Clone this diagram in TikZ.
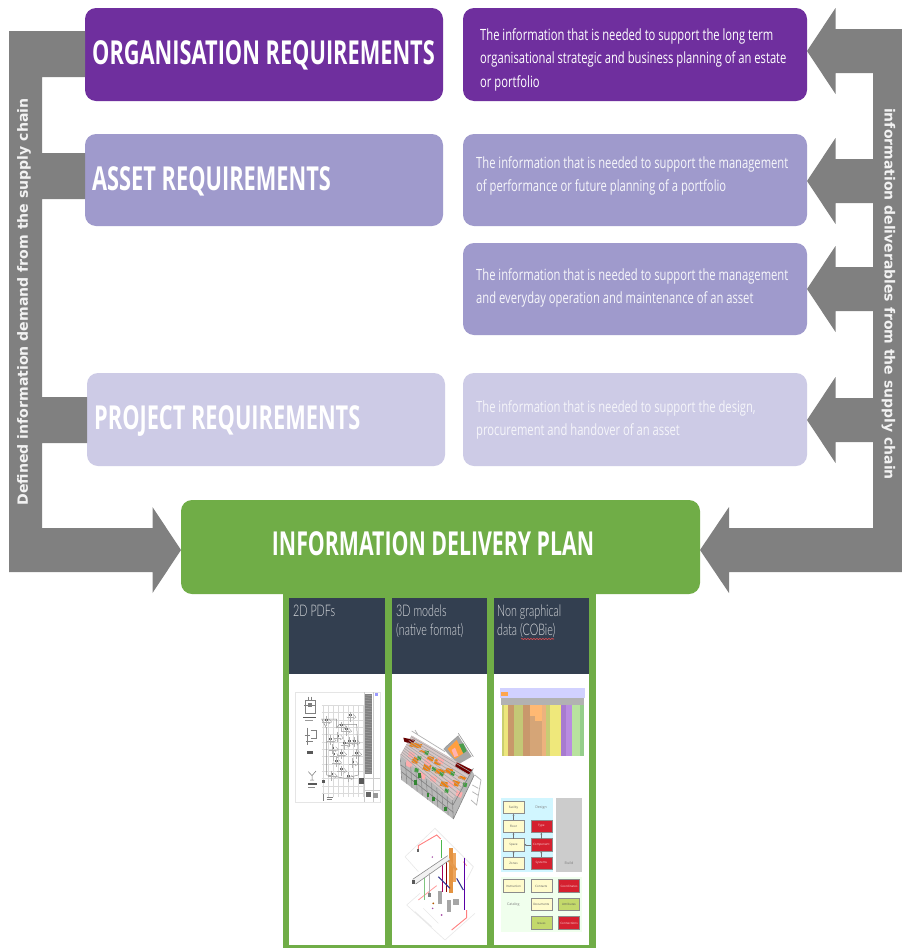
\documentclass[tikz,border=0pt]{standalone}
\usepackage{fontspec}
\setmainfont{Open Sans}
\newfontfamily\titlefont[FakeStretch=0.66]{Open Sans}
\newfontfamily\idpfont[FakeStretch=0.645]{Open Sans}
\newfontfamily\bodyfont[FakeStretch=0.723]{Open Sans}
\newfontfamily\thinfont[FakeStretch=0.672]{Lato Light}
\newfontfamily\sidefont{DejaVu Sans}
\usetikzlibrary{calc,decorations.pathmorphing,arrows.meta}
\definecolor{cPurple}{HTML}{6F2F9E}
\definecolor{cAsset}{HTML}{9F9ACC}
\definecolor{cProject}{HTML}{CDCBE6}
\definecolor{cGreen}{HTML}{70AD47}
\definecolor{cGrey}{HTML}{808080}
\definecolor{cDark}{HTML}{333F50}
\definecolor{cCream}{HTML}{FFFBCC}
\definecolor{cRed}{HTML}{D5202F}
\definecolor{cLime}{HTML}{C3D96B}
\newcommand{\fsz}[1]{\fontsize{#1}{#1}\selectfont}
\tikzset{
  x=1pt,y=-1pt,
  card/.style={rectangle,rounded corners=11pt,inner sep=0pt,outer sep=0pt},
  title/.style={anchor=west,inner sep=0pt,text=white,font=\titlefont\bfseries\fsz{33}},
  body/.style={anchor=west,inner sep=0pt,text=white,font=\bodyfont\fsz{15.5}},
  head/.style={anchor=north west,inner sep=0pt,align=left,text=white!82!cDark,font=\thinfont\fontsize{16}{19}\selectfont},
  side/.style={inner sep=0pt,text=white!90!cGrey,font=\sidefont\bfseries\fsz{14}},
  block/.style={fill=cGrey,draw=none},
  mini/.style={rectangle,inner sep=0pt,outer sep=0pt,minimum width=21pt,minimum height=12.5pt,draw=black!45,line width=.6pt,font=\fsz{3},text=black!65},
  minic/.style={mini,fill=cCream},
  minir/.style={mini,fill=cRed,text=white!85!cRed},
  minil/.style={mini,fill=cLime},
  link/.style={draw=black!55,line width=.5pt,-{Latex[length=2pt,width=2pt]}},
  tiny/.style={inner sep=0pt,font=\fsz{3.6},text=black!50}
}
\begin{document}
\begin{tikzpicture}
\useasboundingbox (0,0) rectangle (902,948);
\fill[white] (0,0) rectangle (902,948);

% ---- cards
\node[card,fill=cPurple,minimum width=358pt,minimum height=93pt] (orgL) at (264,54.5) {};
\node[card,fill=cPurple,minimum width=344pt,minimum height=93pt] (orgR) at (635,54.5) {};
\node[card,fill=cAsset,minimum width=358pt,minimum height=92pt] (assetL) at (264,180) {};
\node[card,fill=cAsset,minimum width=344pt,minimum height=92pt] (assetR) at (635,180) {};
\node[card,fill=cAsset,minimum width=344pt,minimum height=92pt] (operR) at (635,289) {};
\node[card,fill=cProject,minimum width=358pt,minimum height=93pt] (projL) at (266,419.5) {};
\node[card,fill=cProject,minimum width=344pt,minimum height=93pt] (projR) at (635,419.5) {};
\node[card,fill=cGreen,minimum width=519pt,minimum height=94pt] (idp) at (440.5,547) {};

% ---- arrow tips
\coordinate (lTip) at ($(idp.west)+(0,3)$);
\coordinate (rTip) at ($(idp.east)+(0,3)$);
\coordinate (pTip) at ($(projR.east)+(0,0.5)$);
\coordinate (oTip) at (operR.east);
\coordinate (aTip) at ($(assetR.east)+(0,1)$);
\coordinate (gTip) at ($(orgR.east)+(0,-3.5)$);

% ---- left block arrow (demand)
\fill[block] (orgL.west |- 0,31) -- (9,31) -- (9,572) -- ($(lTip)+(-28.5,22)$) -- ($(lTip)+(-28.5,43)$)
  -- (lTip) -- ($(lTip)+(-28.5,-43)$) -- ($(lTip)+(-28.5,-22)$) -- (42,528) -- (42,443)
  -- (projL.west |- 0,443) -- (projL.west |- 0,397) -- (42,397) -- (42,199)
  -- (assetL.west |- 0,199) -- (assetL.west |- 0,153) -- (42,153) -- (42,77)
  -- (orgL.west |- 0,77) -- cycle;
% ---- right block arrow (deliverables)
\fill[block] (902,29) -- (902,572) -- ($(rTip)+(29,22)$) -- ($(rTip)+(29,43)$) -- (rTip)
  -- ($(rTip)+(29,-43)$) -- ($(rTip)+(29,-22)$) -- (873,528) -- (873,442)
  -- ($(pTip)+(28.5,22)$) -- ($(pTip)+(28.5,43)$) -- (pTip) -- ($(pTip)+(28.5,-43)$) -- ($(pTip)+(28.5,-22)$)
  -- (873,398) -- (873,311)
  -- ($(oTip)+(28.5,22)$) -- ($(oTip)+(28.5,43)$) -- (oTip) -- ($(oTip)+(28.5,-43)$) -- ($(oTip)+(28.5,-22)$)
  -- (873,267) -- (873,203)
  -- ($(aTip)+(28.5,22)$) -- ($(aTip)+(28.5,43)$) -- (aTip) -- ($(aTip)+(28.5,-43)$) -- ($(aTip)+(28.5,-22)$)
  -- (873,159) -- (873,73)
  -- ($(gTip)+(28.5,22)$) -- ($(gTip)+(28.5,43)$) -- (gTip) -- ($(gTip)+(28.5,-43)$) -- ($(gTip)+(28.5,-22)$)
  -- cycle;

% ---- side labels
\node[side,rotate=90,font=\sidefont\bfseries\fsz{14.1}] (demand) at (24,302) {Defined information demand from the supply chain};
\node[side,rotate=-90] (deliver) at (888.5,294) {information deliverables from the supply chain};

% ---- titles
\node[title] (t1) at (92,55.5) {ORGANISATION REQUIREMENTS};
\node[title] (t2) at (92,181) {ASSET REQUIREMENTS};
\node[title] (t3) at (94,420.5) {PROJECT REQUIREMENTS};
\node[title,anchor=center,font=\idpfont\bfseries\fsz{33}] (t4) at (433,544) {INFORMATION DELIVERY PLAN};

% ---- descriptions
\node[body] (b1) at (480,36) {The information that is needed to support the long term};
\node[body] (b2) at (480,59) {organisational strategic and business planning of an estate};
\node[body] (b3) at (480,83) {or portfolio};
\node[body,text=white!92!cAsset] (b4) at (476,164) {The information that is needed to support the management};
\node[body,text=white!92!cAsset] (b5) at (476,187) {of performance or future planning of a portfolio};
\node[body,text=white!92!cAsset] (b6) at (476,276) {The information that is needed to support the management};
\node[body,text=white!92!cAsset] (b7) at (476,299) {and everyday operation and maintenance of an asset};
\node[body,text=white!80!cProject] (b8) at (476,408) {The information that is needed to support the design,};
\node[body,text=white!80!cProject] (b9) at (476,431) {procurement and handover of an asset};

% ---- lower panel
\fill[cGreen] (283,594) rectangle (596,948);
\foreach \xa/\xb in {289/385,392/487,494/589}{
  \fill[white] (\xa,674) rectangle (\xb,945);
  \fill[cDark] (\xa,598) rectangle (\xb,674);
}
\node[head] (h1) at (293,605) {2D PDFs};
\node[head] (h2) at (396,605) {3D models\\(native format)};
\node[head] (h3) at (497,605) {Non graphical\\data (COBie)};
\coordinate (sqA) at (521,639);
\coordinate (sqB) at (554,639);
\draw[red!70!white,line width=.6pt,decorate,decoration={snake,amplitude=.5pt,segment length=3pt}] (sqA) -- (sqB);

% ---- 2D drawing
\begin{scope}[shift={(290,685)},x=.3333pt,y=-.3333pt]
  \fill[white] (15,22) rectangle (270,352);
  \draw[black!10,line width=.8pt] (15,22) rectangle (270,352);
  \fill[black!50] (225,26) rectangle (246,268);
  \foreach \yy in {30,38,...,262}{\draw[white!65!black,line width=.5pt] (226,\yy) -- (245,\yy+2);}
  \draw[black!20,line width=.3pt] (248,22) -- (248,352) (222,22) -- (222,352) (222,280) -- (270,280) (222,315) -- (270,315);
  \fill[blue!40] (256,24) rectangle (264,32);
  \fill[black!60] (228,322) rectangle (242,335);
  \fill[black!40] (248,325) rectangle (265,340);
  \foreach \xx in {100,115,...,220}{\draw[black!14,line width=.25pt] (\xx,60) -- (\xx,335);}
  \foreach \yy in {60,82,...,335}{\draw[black!14,line width=.25pt] (95,\yy) -- (222,\yy);}
  % plan walls
  \draw[black!45,line width=.5pt] (95,102) -- (140,102) -- (140,128) -- (148,118) -- (200,118) -- (205,215) -- (205,270) -- (165,280) -- (110,270) -- (110,130) -- cycle;
  \foreach \px/\py in {105/102,150/118,178/88,118/158,125/185,128/205,135/225,122/265,165/130,175/165,190/165,195/200,185/228,150/200,160/172,140/150,150/250,172/270}{
    \fill[black!60] (\px,\py) rectangle ++(8,6);
    \draw[black!30,line width=.35pt] (\px-8,\py+10) -- ++(22,0) (\px+3,\py-8) -- ++(0,30);
    \draw[black!40,line width=.35pt] (\px+12,\py) -- ++(8,9) -- ++(-10,6);
  }
  \fill[black!65] (97,285) rectangle (106,295);
  \fill[black!65] (208,280) rectangle (222,298);
  \fill[black!50] (98,327) rectangle (103,348);
  \draw[black!50,line width=.4pt] (110,338) -- (130,338) (110,343) -- (125,343);
  % detail sketches on the left
  \draw[black!50,line width=.5pt] (45,45) rectangle (75,85) (55,35) -- (55,45) (65,35) -- (65,45) (42,60) -- (78,60);
  \fill[black!50] (55,55) rectangle (65,65);
  \fill[black!65] (40,95) rectangle (78,100);
  \draw[black!40,line width=.5pt] (45,105) -- (70,105);
  \draw[black!50,line width=.5pt] (52,128) -- (52,180) (62,135) -- (80,135) -- (80,160) -- (62,160) (44,150) -- (60,150) (48,170) -- (70,170);
  \fill[black!65] (50,198) rectangle (70,208);
  \draw[black!55,line width=.5pt] (55,260) -- (66,272) -- (78,258) (66,272) -- (66,285) (60,285) -- (72,285);
  \fill[black!65] (55,295) rectangle (80,301);
  \fill[black!45] (55,305) rectangle (75,310);
\end{scope}

% ---- 3D building
\begin{scope}[shift={(395,725)},x=.3333pt,y=-.3333pt]
  % wing
  \fill[black!35!white] (145,72) -- (190,32) -- (230,95) -- (190,118) -- cycle;
  \fill[orange!75!white] (158,72) -- (185,45) -- (205,85) -- (180,102) -- cycle;
  \fill[green!45!black!70] (192,58) -- (205,55) -- (215,78) -- (205,85) -- cycle;
  \fill[red!30!white] (170,75) -- (180,68) -- (190,92) -- (178,96) -- cycle;
  \draw[black!40,line width=.6pt] (190,32) -- (150,68) (190,25) -- (235,95);
  % main block side
  \fill[black!28] (16,90) -- (20,165) -- (175,282) -- (192,245) -- (238,150) -- (230,135) -- (50,32) -- cycle;
  % roof
  \fill[red!30!black!22!white] (16,90) -- (50,32) -- (232,138) -- (172,225) -- cycle;
  \fill[black!60!red] (25,38) -- (60,45) -- (52,58) -- (28,50) -- cycle;
  \fill[black!55!red] (185,112) -- (232,135) -- (222,148) -- (180,125) -- cycle;
  \foreach \ax/\ay/\bx/\by in {48/52/82/70,78/75/95/85,55/95/72/118,100/92/118/110,122/102/142/122,88/115/110/140,125/130/152/150,155/128/175/148,140/168/165/188,175/165/195/185,195/152/215/165}{
    \fill[orange!70!brown] (\ax,\ay) -- (\bx,\ay+6) -- (\bx-6,\by) -- (\ax-6,\by-6) -- cycle;}
  \foreach \ax/\ay in {68/92,60/128,112/125,135/140,168/138,150/190,205/172,90/76}{
    \fill[green!50!black!75] (\ax,\ay) -- ++(12,3) -- ++(-3,12) -- ++(-11,-3) -- cycle;}
  \foreach \ax/\ay in {42/78,90/100,130/95,108/150,185/195,35/105,75/140,160/165}{
    \fill[red!32!white] (\ax,\ay) -- ++(18,8) -- ++(-5,16) -- ++(-16,-8) -- cycle;}
  \foreach \t in {0.05,0.15,...,1.01}{
    \draw[black!35,line width=.6pt] ($(16,90)!\t!(50,32)$) -- ($(172,225)!\t!(232,138)$);}
  % facade
  \foreach \t in {0,.1,...,1.01}{
    \draw[black!45,line width=.6pt] ($(16,100)!\t!(172,225)$) -- ($(20,165)!\t!(175,282)$);}
  \draw[black!50,line width=.6pt] (18,120) -- (174,240) (19,140) -- (175,262) (175,282) -- (238,150) (174,240) -- (235,130);
  \foreach \ax/\ay in {58/165,95/203,112/215,148/245,70/145}{
    \fill[green!40!black!80] (\ax,\ay) rectangle ++(7,14);}
  % frame
  \draw[black!30,line width=.7pt] (50,18) -- (150,80) (60,15) -- (68,28)
     (240,150) -- (258,165) -- (245,240) -- (228,225) (250,190) -- (232,180) (248,210) -- (232,200);
\end{scope}

% ---- MEP model
\begin{scope}[shift={(395,825)},x=.3333pt,y=-.3333pt]
  \draw[black!9,line width=.6pt] (30,95) -- (120,10) -- (235,125) -- (215,165) (30,95) -- (70,140) (35,240) -- (150,345) -- (240,265) (35,240) -- (75,205) (60,260) -- (110,305) (85,250) -- (130,295);
  \draw[red!50!white,line width=.9pt] (70,77) -- (70,62) -- (125,30) -- (137,42);
  \fill[black!60] (67,73) rectangle (73,81);
  \draw[red!40!white,line width=.8pt] (70,225) -- (125,182);
  \draw[red!50!white,line width=.9pt] (170,315) -- (215,278) -- (215,255);
  \draw[red!40!white,line width=.8pt] (205,110) -- (215,122);
  \draw[black!40!green!70,line width=1.5pt] (139,45) -- (139,100);
  \draw[orange!50!brown!85,line width=4.5pt] (168,70) -- (168,205);
  \draw[orange!60!brown!70,line width=2.5pt] (178,85) -- (178,170);
  \draw[orange!50!brown!80,line width=2.5pt] (160,105) -- (185,135);
  \draw[violet!70!blue,line width=1.5pt] (208,98) -- (208,255);
  \draw[violet!70!red,line width=1.2pt] (143,120) -- (143,200);
  \draw[red!55!black,line width=1pt] (155,100) -- (155,200);
  \draw[blue!45!black!80,line width=1.1pt] (185,160) -- (205,195) (130,155) -- (165,190);
  \fill[black!35] (128,198) rectangle (140,238);
  \fill[black!35] (155,225) rectangle (167,262);
  \fill[black!35] (175,222) rectangle (192,240);
  % duct
  \fill[black!5] (53,163) -- (158,92) -- (165,104) -- (62,177) -- cycle;
  \draw[black!45,line width=.6pt] (53,163) -- (158,92) (62,177) -- (165,104);
  \fill[black!65] (52,165) rectangle (60,178);
  \draw[black!45!green!50,line width=1pt] (88,160) -- (88,225);
  \draw[black!30,line width=1.1pt] (103,145) -- (103,215);
  \fill[black!50] (100,205) rectangle (108,216);
  \fill[violet!70] (112,96) circle (2.5);
  \fill[orange!70!black] (115,235) circle (3);
  \fill[violet!70] (113,250) circle (2.5);
  \fill[violet!70] (140,270) circle (3);
\end{scope}

% ---- spreadsheet
\begin{scope}
  \fill[blue!18!white] (500,688) rectangle (585,698);
  \fill[orange!70] (501,692) rectangle (508,696);
  \fill[black!30] (501,698) rectangle (584,705);
  \foreach \xa/\xb/\cc in {502/504/C9CF6E,504/508/EDE67C,508/514/C8986A,514/523/C4C876,523/530/C9986C,530/542/D5A577,542/546/ECB27E,546/550/C7CC74,550/561/EFE87B,561/566/A77BD0,566/572/B98CE0,572/580/B8E29E,580/584/95CE8B}{
    \definecolor{tmpc}{HTML}{\cc}
    \fill[tmpc] (\xa,705) rectangle (\xb,756);}
  \fill[orange!55!white] (530,705) rectangle (542,716);
  \fill[orange!55!white] (535,716) rectangle (542,721);
\end{scope}

% ---- COBie schema
\begin{scope}[shift={(490,670)},x=.3333pt,y=-.3333pt]
  \fill[blue!20!cyan!18!white] (33,385) rectangle (190,607);
  \fill[black!20] (199,385) rectangle (275,607);
  \fill[lime!25!green!7!white] (33,620) rectangle (275,787);
  \node[minic] (fac) at (70.5,412.5) {Facility};
  \node[minic] (flo) at (70.5,468.5) {Floor};
  \node[minic] (spa) at (70.5,524.5) {Space};
  \node[minic] (zon) at (70.5,579.5) {Zones};
  \node[minir] (typ) at (154,468.5) {Type};
  \node[minir] (com) at (154,524.5) {Component};
  \node[minir] (sys) at (154,579.5) {Systems};
  \node[tiny] (des) at (153,413) {Design};
  \node[tiny] (bui) at (237,580) {Build};
  \draw[link] (flo) -- (fac);
  \draw[link] (spa) -- (flo);
  \draw[link] (zon) -- (spa);
  \draw[link] (com) -- (typ);
  \draw[link] (com) -- (spa);
  \draw[link] (sys) -- (com);
  \node[minic] (ins) at (70.5,648) {Instruction};
  \node[minic] (con) at (154,648) {Contacts};
  \node[minir] (coo) at (237,648) {Coordinates};
  \node[tiny] (cat) at (70,705) {Catalog};
  \node[minic] (doc) at (154,703) {Documents};
  \node[minil] (att) at (237,703) {Attributes};
  \node[minil] (iss) at (154,759) {Issues};
  \node[minir] (cnn) at (237,759) {Connections};
\end{scope}
\end{tikzpicture}
\end{document}
